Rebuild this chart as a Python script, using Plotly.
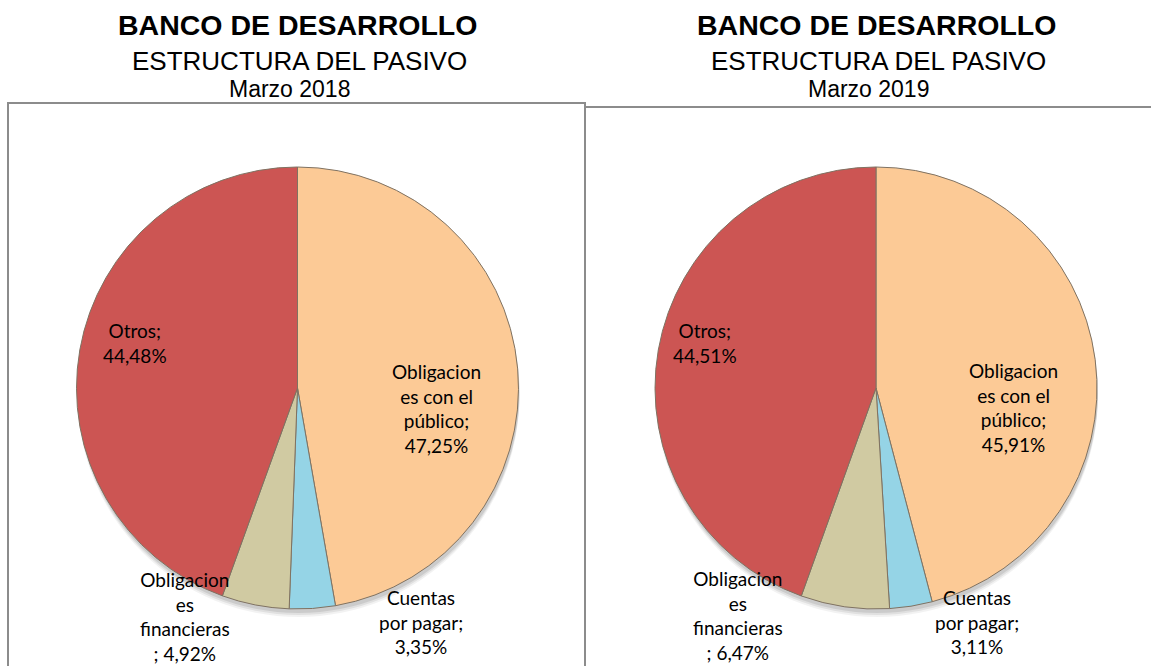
import plotly.graph_objects as go

W, H = 1151, 666

categories = ["Obligaciones con el público", "Cuentas por pagar",
              "Obligaciones financieras", "Otros"]
# wrapped forms of the category names as they appear in the data labels
wrapped_names = ["Obligacion<br>es con el<br>público", "Cuentas<br>por pagar",
                 "Obligacion<br>es<br>financieras", "Otros"]
values_2018 = [47.25, 3.35, 4.92, 44.48]
values_2019 = [45.91, 3.11, 6.47, 44.51]
titles = ["BANCO DE DESARROLLO", "ESTRUCTURA DEL PASIVO"]
periods = ["Marzo 2018", "Marzo 2019"]

colors = ["#FCCA96", "#95D4E6", "#D0CAA2", "#CC5553"]
# how name and value are joined in each label (wrapping style)
separators = [";<br>", ";<br>", "<br>; ", ";<br>"]

# label centres in pixels per chart (style)
label_pos_left = [(436, 408), (421, 622), (185, 616), (135, 343)]
label_pos_right = [(1013, 407), (977, 622), (738, 615), (705, 343)]

R = 221
centers = [(297.5, 388), (876, 388)]


def px(x):
    return x / W


def py(y):
    return 1 - y / H


fig = go.Figure()

shapes = []
# frames
shapes.append(dict(type="rect", xref="paper", yref="paper",
                   x0=px(8), x1=px(585), y0=py(H + 10), y1=py(103),
                   line=dict(color="#8C8C8C", width=2), fillcolor="rgba(0,0,0,0)",
                   layer="below"))
shapes.append(dict(type="rect", xref="paper", yref="paper",
                   x0=px(585), x1=px(W + 10), y0=py(H + 10), y1=py(107),
                   line=dict(color="#8C8C8C", width=2), fillcolor="rgba(0,0,0,0)",
                   layer="below"))
# soft shadows under the pies
for cx, cy in centers:
    for off, alpha in [(8, 0.05), (6, 0.07), (4, 0.09)]:
        shapes.append(dict(type="circle", xref="paper", yref="paper",
                           x0=px(cx - R + 1), x1=px(cx + R + 1),
                           y0=py(cy + R + off), y1=py(cy - R + off),
                           line=dict(width=0), fillcolor=f"rgba(0,0,0,{alpha})",
                           layer="below"))

for vals, (cx, cy) in zip([values_2018, values_2019], centers):
    fig.add_trace(go.Pie(
        labels=categories, values=vals, sort=False, direction="clockwise",
        rotation=0, textinfo="none", hoverinfo="label+percent",
        marker=dict(colors=colors, line=dict(color="#7F7262", width=1)),
        domain=dict(x=[px(cx - R), px(cx + R)], y=[py(cy + R), py(cy - R)]),
        showlegend=False))

annotations = []
label_font = dict(family="Lato, Calibri, sans-serif", size=19, color="#000000")
for vals, positions in [(values_2018, label_pos_left), (values_2019, label_pos_right)]:
    for name, sep, v, (x, y) in zip(wrapped_names, separators, vals, positions):
        txt = name + sep + f"{v:.2f}%".replace(".", ",")
        annotations.append(dict(x=px(x), y=py(y), xref="paper", yref="paper",
                                text=txt, showarrow=False, font=label_font,
                                align="center", xanchor="center", yanchor="middle"))

for (cx, _), period in zip(centers, periods):
    annotations.append(dict(x=px(cx), y=py(25), xref="paper", yref="paper",
                            text=f"<b>{titles[0]}</b>", showarrow=False,
                            font=dict(family="Liberation Sans, Arial", size=28.5, color="black"),
                            xanchor="center", yanchor="middle"))
    annotations.append(dict(x=px(cx + 2), y=py(61), xref="paper", yref="paper",
                            text=titles[1], showarrow=False,
                            font=dict(family="Liberation Sans, Arial", size=26, color="black"),
                            xanchor="center", yanchor="middle"))
    annotations.append(dict(x=px(cx - 8), y=py(89), xref="paper", yref="paper",
                            text=period, showarrow=False,
                            font=dict(family="Liberation Sans, Arial", size=23, color="black"),
                            xanchor="center", yanchor="middle"))

fig.update_layout(width=W, height=H, margin=dict(l=0, r=0, t=0, b=0),
                  paper_bgcolor="white", plot_bgcolor="white",
                  shapes=shapes, annotations=annotations)

fig.write_html("out.html", config={"displayModeBar": False},
               post_script="document.body.style.margin='0';document.body.style.overflow='hidden';")
